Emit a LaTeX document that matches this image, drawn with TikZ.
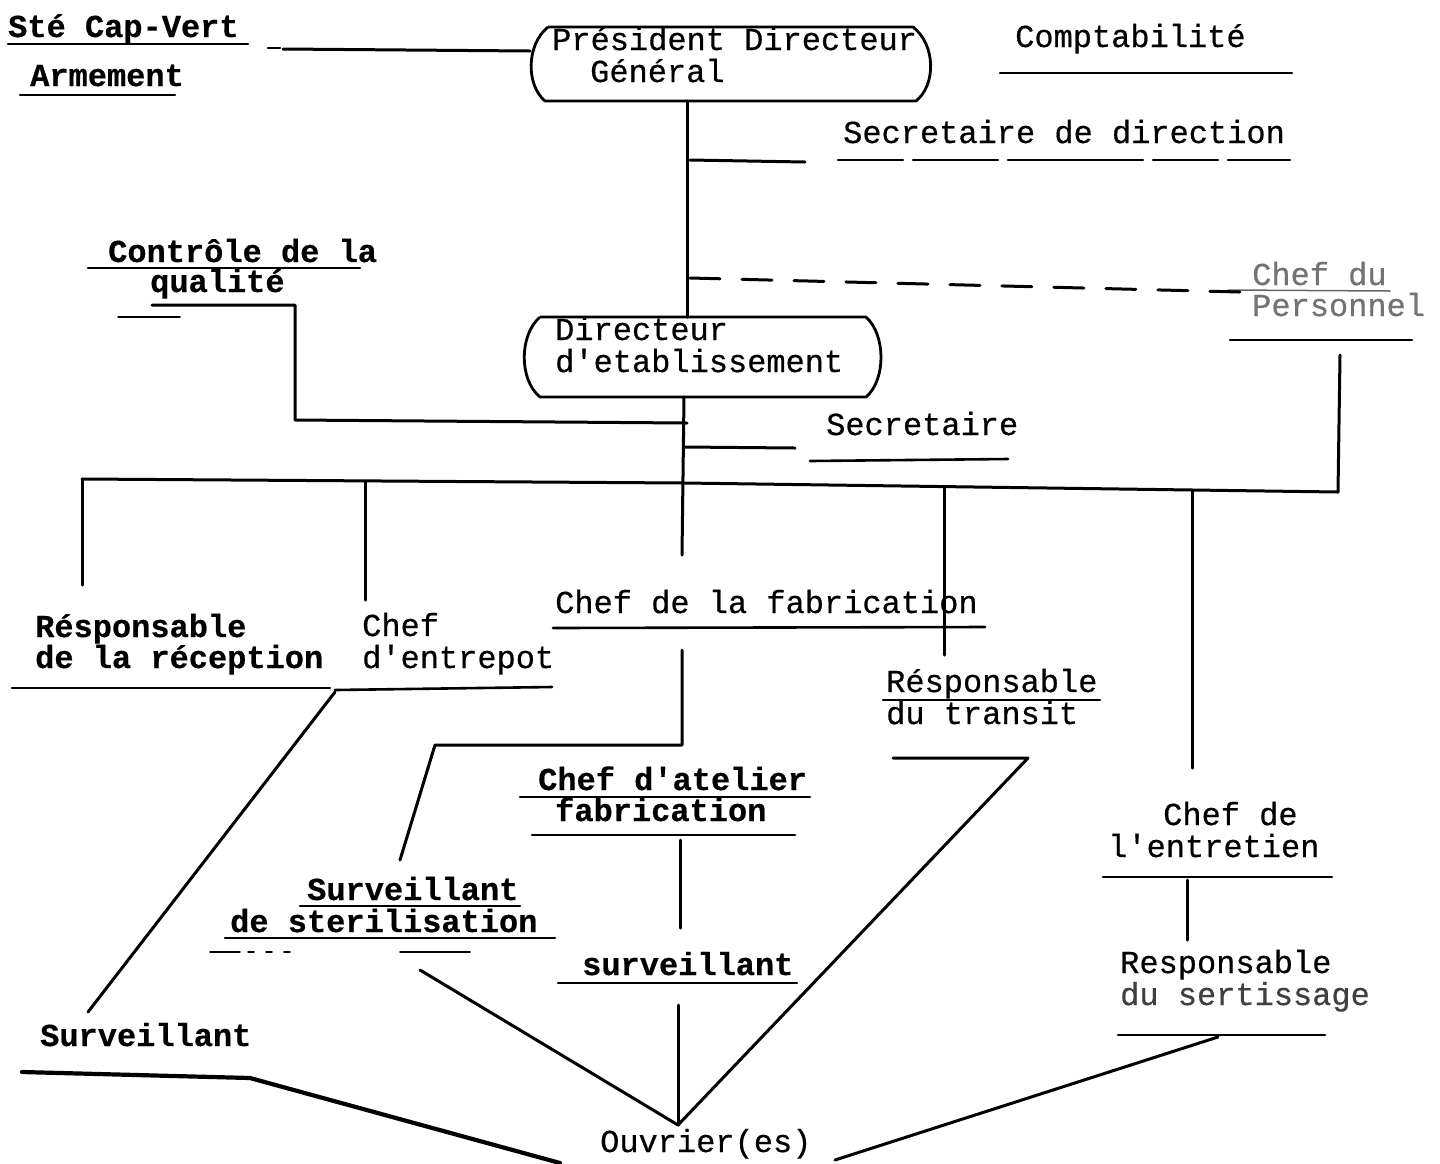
\documentclass[tikz,border=0pt]{standalone}
\usepackage{fontspec}
\newfontfamily\twfont{Liberation Mono}[FakeBold=0.5]
\newcommand{\twsize}{\twfont\fontsize{32}{32}\selectfont}
\tikzset{
  lbl/.style={anchor=base west, inner sep=0pt, font=\twsize},
  lblb/.style={lbl, font=\twsize\bfseries},
  lblg/.style={lbl, text=black!55},
  ln/.style={line width=3pt, line cap=round, line join=round},
  ul/.style={line width=2.6pt, line cap=round},
  thinul/.style={line width=1.5pt, line cap=round},
  boxln/.style={line width=2.8pt, line join=round},
}
\begin{document}
\begin{tikzpicture}[x=1pt,y=-1pt]
\useasboundingbox (0,0) rectangle (1440,1163);
\fill[white] (0,0) rectangle (1440,1163);

% ---- texts ----
\node[lblb] (sc) at (8,37) {Sté Cap-Vert};
\node[lblb] (arm) at (30,86) {Armement};
\node[lbl] (pdg1) at (552,50) {Président Directeur};
\node[lbl] (pdg2) at (590,82) {Général};
\node[lbl] (compta) at (1015,47) {Comptabilité};
\node[lbl] (secd) at (843,143) {Secretaire de direction};
\node[lblg] (cdp1) at (1252,285) {Chef du};
\node[lblg] (cdp2) at (1252,316) {Personnel};
\node[lblb] (cq1) at (108,262) {Contrôle de la};
\node[lblb] (cq2) at (150,292) {qualité};
\node[lbl] (de1) at (555,340) {Directeur};
\node[lbl] (de2) at (555,372) {d'etablissement};
\node[lbl] (sec) at (826,435) {Secretaire};
\node[lblb] (rr1) at (35,637) {Résponsable};
\node[lblb] (rr2) at (35,668) {de la réception};
\node[lbl] (ce1) at (362,636) {Chef};
\node[lbl] (ce2) at (362,668) {d'entrepot};
\node[lbl] (cf) at (555,613) {Chef de la fabrication};
\node[lbl] (rt1) at (886,692) {Résponsable};
\node[lbl] (rt2) at (886,724) {du transit};
\node[lblb] (ca1) at (538,790) {Chef d'atelier};
\node[lblb] (ca2) at (555,821) {fabrication};
\node[lblb] (sv1) at (307,900) {Surveillant};
\node[lblb] (sv2) at (230,932) {de sterilisation};
\node[lblb] (su) at (582,975) {surveillant};
\node[lbl] (cen1) at (1163,825) {Chef de};
\node[lbl] (cen2) at (1108,857) {l'entretien};
\node[lbl] (rs1) at (1120,973) {Responsable};
\node[lbl, text=black!75] (rs2) at (1120,1005) {du sertissage};
\node[lblb] (svl) at (40,1046) {Surveillant};
\node[lbl] (ouv) at (600,1152) {Ouvrier(es)};

% ---- boxes ----
\draw[boxln] (548,27) -- (913,27) .. controls (936,45) and (936,85) .. (916,101)
  -- (545,101) .. controls (526,85) and (526,45) .. (548,27);
\draw[boxln] (540,317) -- (866,317) .. controls (886,335) and (886,380) .. (866,397)
  -- (540,397) .. controls (519,380) and (519,335) .. (540,317);

% ---- coordinates ----
\coordinate (pdgB) at (687,101);
\coordinate (deT) at (687,317);
\coordinate (deB) at (684,397);
\coordinate (busL) at (82,479);
\coordinate (busM) at (684,483);
\coordinate (busR) at (1338,492);
\coordinate (ouvT) at (678,1125);

% ---- underlines ----
\draw[ul] (8,44) -- (248,44);
\draw[ul] (20,95) -- (175,95);
\draw[ul] (1000,73) -- (1292,73);
\draw[ul, dash pattern=on 65pt off 10pt on 85pt off 10pt on 135pt off 10pt] (838,160) -- (1290,160);
\draw[ul] (1230,340) -- (1412,340);
\draw[ul] (88,268) -- (360,268);
\draw[thinul] (118,317) -- (180,317);
\draw[ul] (810,461) -- (1008,459);
\draw[ul] (12,688) -- (330,688);
\draw[ul] (335,690) -- (552,687);
\draw[ul] (553,628) -- (985,627);
\draw[ul] (883,700) -- (1100,700);
\draw[ul] (520,797) -- (810,797);
\draw[ul] (532,835) -- (795,835);
\draw[ul] (300,906) -- (520,906);
\draw[ul] (225,938) -- (555,938);
\draw[thinul, dash pattern=on 30pt off 8pt on 6pt off 12pt on 6pt off 12pt on 6pt off 110pt on 70pt off 30pt] (210,952) -- (485,952);
\draw[ul] (558,983) -- (797,983);
\draw[ul] (1103,877) -- (1332,877);
\draw[ul] (1118,1035) -- (1325,1035);
\draw[thinul, black!60] (1228,290) -- (1390,291);

% ---- connectors ----
\draw[ul] (268,48) -- (280,48);
\draw[ln] (283,49) -- (530,51);
\draw[ln] (pdgB) -- (deT);
\draw[ln] (690,160) -- (805,162);
\draw[ln, dash pattern=on 30pt off 22pt] (690,278) -- (1240,292);
\draw[ln] (152,305) -- (295,305) -- (295,420) -- (687,423);
\draw[ln] (deB) -- (682,555);
\draw[ln] (684,447) -- (795,448);
\draw[ln] (busL) -- (busM) -- (busR);
\draw[ln] (busL) -- (82,585);
\draw[ln] (365,481) -- (365,600);
\draw[ln] (944,488) -- (944,655);
\draw[ln] (1192,490) -- (1192,768);
\draw[ln] (busR) -- (1340,355);
\draw[ln] (335,692) -- (88,1012);
\draw[ln] (682,650) -- (682,745) -- (435,745) -- (400,860);
\draw[ln] (680,840) -- (680,928);
\draw[ln] (678,1005) -- (ouvT);
\draw[ln] (420,970) -- (ouvT);
\draw[ln] (893,758) -- (1028,758) -- (ouvT);
\draw[ln] (1187,880) -- (1187,940);
\draw[ln] (1218,1037) -- (835,1160);
\draw[ln, line width=4.2pt] (22,1072) -- (250,1078) -- (560,1163);
\end{tikzpicture}
\end{document}
